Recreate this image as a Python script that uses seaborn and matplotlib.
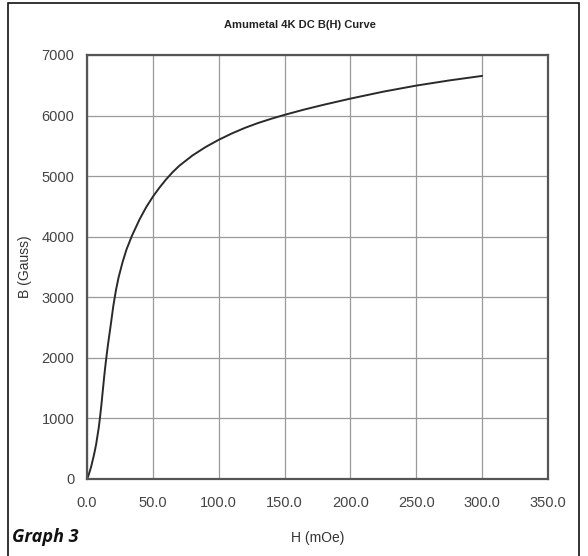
import matplotlib
matplotlib.use("Agg")
import matplotlib.pyplot as plt
import numpy as np
import pandas as pd
import seaborn as sns
from matplotlib.patches import Rectangle

# B(H) values
h_moe = [0, 1, 2, 3, 4, 5, 6, 7, 8, 9, 10, 11, 12, 13, 14, 15, 16, 18, 20, 22, 24,
         27, 30, 34, 40, 45, 50, 55, 60, 65, 70, 80, 90, 100, 110, 120, 130, 140,
         150, 165, 180, 200, 225, 250, 275, 300]
b_gauss = [0, 50, 120, 190, 280, 370, 470, 580, 720, 860, 1040, 1240, 1460, 1680, 1880,
           2060, 2230, 2540, 2860, 3120, 3330, 3580, 3790, 4010, 4290, 4490, 4660, 4810,
           4945, 5065, 5170, 5340, 5480, 5600, 5705, 5798, 5878, 5948, 6012, 6100, 6180,
           6280, 6395, 6495, 6580, 6655]

x_ticks = [0, 50, 100, 150, 200, 250, 300, 350]
y_ticks = [0, 1000, 2000, 3000, 4000, 5000, 6000, 7000]

df = pd.DataFrame({"H": h_moe, "B": b_gauss})

sns.set_theme(style="white")
plt.rcParams["font.family"] = ["Liberation Sans", "DejaVu Sans"]

fig = plt.figure(figsize=(5.88, 5.56), dpi=100)
ax = fig.add_axes([87 / 588, 77 / 556, 461 / 588, 424 / 556])

sns.lineplot(data=df, x="H", y="B", ax=ax, color="#2a2a2a", linewidth=1.4)

ax.set_xlim(0, 350)
ax.set_ylim(0, 7000)
ax.set_xticks(x_ticks)
ax.set_yticks(y_ticks)
ax.set_xticklabels([f"{t:.1f}" for t in x_ticks])
ax.set_yticklabels([str(t) for t in y_ticks])
ax.grid(True, color="#9a9a9a", linewidth=0.9)
ax.set_axisbelow(True)
for s in ax.spines.values():
    s.set_color("#555555")
    s.set_linewidth(1.6)
ax.tick_params(axis="both", direction="out", length=4, width=1, color="#555555",
               labelsize=10.5, labelcolor="#444444", pad=5)
ax.tick_params(axis="x", pad=8)

ax.set_xlabel("")
ax.set_ylabel("")
fig.text(318 / 588, 1 - 538 / 556, "H (mOe)", ha="center", va="center",
         fontsize=10, color="#333333")
fig.text(25 / 588, 1 - 267 / 556, "B (Gauss)", ha="center", va="center",
         rotation=90, fontsize=10, color="#333333")
fig.text(300 / 588, 1 - 25 / 556, "Amumetal 4K DC B(H) Curve", ha="center",
         va="center", fontsize=8, fontweight="bold", color="#222222")
fig.text(12 / 588, 1 - 537 / 556, "Graph 3", ha="left", va="center",
         fontsize=13, fontweight="bold", fontstyle="italic", color="#111111",
         family=["Open Sans", "DejaVu Sans"])

# outer frame, open at the bottom
fig.patches.append(Rectangle((8 / 588, -0.05), 571 / 588, 1.05 - 3 / 556,
                             transform=fig.transFigure, fill=False,
                             edgecolor="#111111", linewidth=1.2))

fig.savefig("out.png", dpi=100)
